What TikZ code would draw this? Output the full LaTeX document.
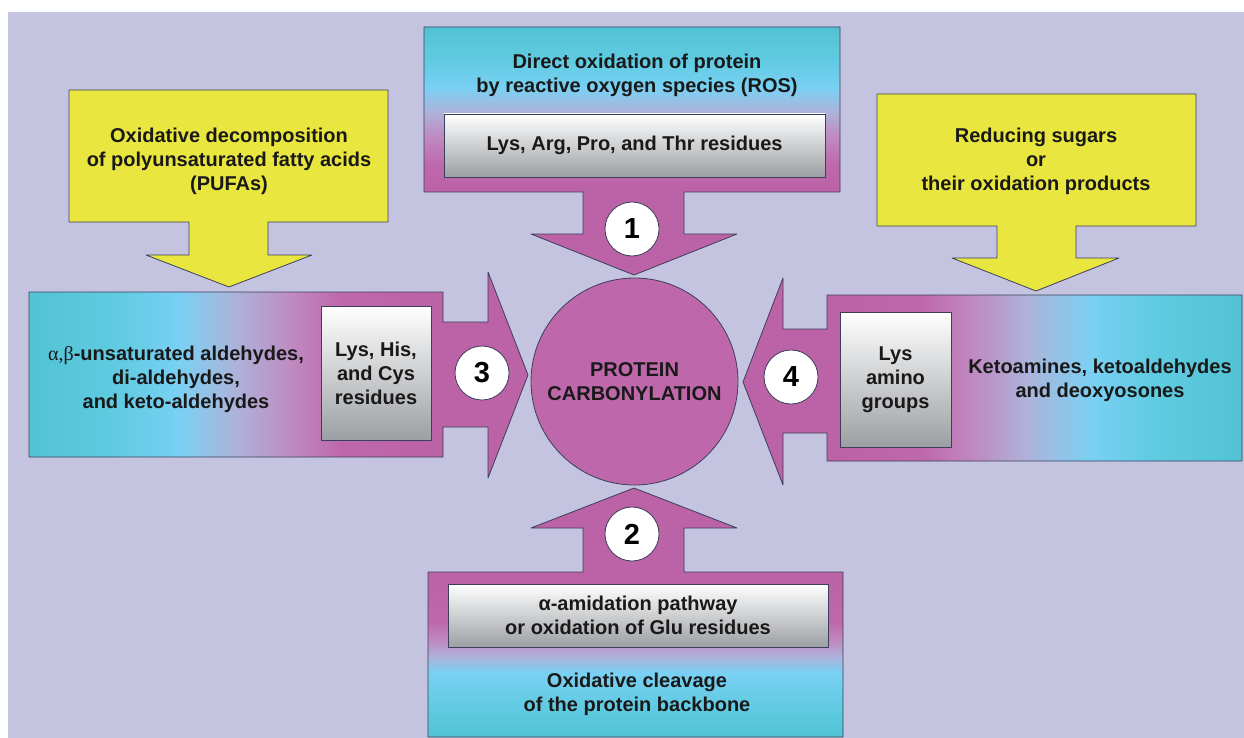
\documentclass[tikz,border=0pt]{standalone}
\usepackage{fontspec}
\setmainfont{Liberation Sans}
\newfontfamily\symfont{Liberation Serif}

\definecolor{bgcol}{HTML}{C4C4E0}
\definecolor{magcol}{HTML}{BE68AB}
\definecolor{magdk}{HTML}{BC62A6}
\definecolor{pinkcol}{HTML}{BF8CC2}
\definecolor{lavcol}{HTML}{ADB3DA}
\definecolor{skycol}{HTML}{7AD0F3}
\definecolor{cyanlt}{HTML}{60CBE2}
\definecolor{cyancol}{HTML}{52C3D3}
\definecolor{yelcol}{HTML}{EAE640}
\definecolor{edgecol}{HTML}{3A3F5C}
\definecolor{greybot}{HTML}{9C9FA3}

% gradients of the four pathway arrows (outer side cyan, inner side magenta)
\pgfdeclareverticalshading{vtop}{100bp}{color(0bp)=(magdk); color(41.7bp)=(magdk); color(47.2bp)=(magcol);
  color(53.2bp)=(pinkcol); color(57.9bp)=(lavcol); color(62.7bp)=(skycol); color(68.3bp)=(cyanlt);
  color(75bp)=(cyancol); color(100bp)=(cyancol)}
\pgfdeclareverticalshading{vbot}{100bp}{color(0bp)=(cyancol); color(25bp)=(cyancol); color(31bp)=(cyanlt);
  color(38bp)=(skycol); color(41.1bp)=(lavcol); color(44.1bp)=(pinkcol); color(48.1bp)=(magcol);
  color(58.1bp)=(magdk); color(100bp)=(magdk)}
\pgfdeclarehorizontalshading{hleft}{100bp}{color(0bp)=(cyancol); color(25bp)=(cyancol); color(34bp)=(cyanlt);
  color(40.1bp)=(skycol); color(45.6bp)=(lavcol); color(51.1bp)=(pinkcol); color(56.1bp)=(magcol);
  color(66.5bp)=(magdk); color(100bp)=(magdk)}
\pgfdeclarehorizontalshading{hright}{100bp}{color(0bp)=(magdk); color(33.4bp)=(magdk); color(43bp)=(magcol);
  color(48.4bp)=(pinkcol); color(53.5bp)=(lavcol); color(59.9bp)=(skycol); color(66bp)=(cyanlt);
  color(75bp)=(cyancol); color(100bp)=(cyancol)}

\begin{document}
\begin{tikzpicture}[x=1pt, y=-1pt, line join=round,
    edge/.style={draw=edgecol, line width=0.8pt},
    txt/.style={align=center, text=black!90, font=\fontsize{20}{24}\selectfont\bfseries},
    greybox/.style={edge, top color=white, bottom color=greybot, inner sep=0pt, align=center,
      text=black!90, font=\fontsize{20}{24}\selectfont\bfseries},
    num/.style={circle, edge, fill=white, minimum size=54pt, inner sep=0pt,
      font=\fontsize{29}{29}\selectfont\bfseries}]
    \useasboundingbox (0,0) rectangle (1244,738);
    \fill[white] (0,0) rectangle (1244,738);
    \fill[bgcol] (8,12) rectangle (1244,738);
    % yellow sources
    \filldraw[edge, fill=yelcol] (69,90) -- (388,90) -- (388,222) -- (268,222) -- (268,255) -- (312,255)
        -- (229,287) -- (146,255) -- (189,255) -- (189,222) -- (69,222) -- cycle;
    \filldraw[edge, fill=yelcol] (877,94) -- (1196,94) -- (1196,226) -- (1076,226) -- (1076,258) -- (1119,258)
        -- (1036,291) -- (952,258) -- (997,258) -- (997,226) -- (877,226) -- cycle;
    \node[txt] (pufa) at (229,161) {Oxidative decomposition\\of polyunsaturated fatty acids\\(PUFAs)};
    \node[txt] (sugar) at (1036,161) {Reducing sugars\\or\\their oxidation products};
    % pathway 1 (top)
    \shadedraw[edge, shading=vtop] (424,27) -- (840,27) -- (840,192) -- (684,192) -- (684,234) -- (737,234)
        -- (634,275) -- (531,234) -- (583,234) -- (583,192) -- (424,192) -- cycle;
    \node[txt] (ros) at (637,75) {Direct oxidation of protein\\by reactive oxygen species (ROS)};
    \node[greybox, minimum width=381pt, minimum height=63pt] (lysarg) at (634.5,145.5)
        {Lys, Arg, Pro, and Thr residues};
    \node[num] (n1) at (632,229) {1};
    % pathway 2 (bottom)
    \shadedraw[edge, shading=vbot] (428,737) -- (843,737) -- (843,572) -- (684,572) -- (684,528) -- (737,528)
        -- (634,488) -- (531,528) -- (583,528) -- (583,572) -- (428,572) -- cycle;
    \node[greybox, minimum width=380pt, minimum height=63pt] (amid) at (638,615.5)
        {α-amidation pathway\\or oxidation of Glu residues};
    \node[txt] (cleave) at (637,694) {Oxidative cleavage\\of the protein backbone};
    \node[num] (n2) at (632,534) {2};
    % pathway 3 (left)
    \shadedraw[edge, shading=hleft] (29,292) -- (443,292) -- (443,322) -- (488,322) -- (488,272) -- (528,375)
        -- (488,478) -- (488,427) -- (443,427) -- (443,457) -- (29,457) -- cycle;
    \node[txt] (ald) at (176,379) {{\symfont\mdseries α,β}-unsaturated aldehydes,\\di-aldehydes,\\and keto-aldehydes};
    \node[greybox, minimum width=110pt, minimum height=134pt] (lyshis) at (376,373)
        {Lys, His,\\and Cys\\residues};
    \node[num] (n3) at (482,373) {3};
    % pathway 4 (right)
    \shadedraw[edge, shading=hright] (1242,295) -- (827,295) -- (827,329) -- (783,329) -- (783,278) -- (743,382)
        -- (783,485) -- (783,433) -- (827,433) -- (827,461) -- (1242,461) -- cycle;
    \node[greybox, minimum width=111pt, minimum height=135pt] (lysam) at (895.5,379.5)
        {Lys\\amino\\groups};
    \node[txt] (keto) at (1100,380) {Ketoamines, ketoaldehydes\\and deoxyosones};
    \node[num] (n4) at (791,377) {4};
    % centre
    \node[circle, edge, fill=magcol, minimum size=207pt, inner sep=0pt, align=center, text=black!90,
        font=\fontsize{20}{24}\selectfont\bfseries] (carb) at (634.5,381.5) {PROTEIN\\CARBONYLATION};
\end{tikzpicture}
\end{document}
